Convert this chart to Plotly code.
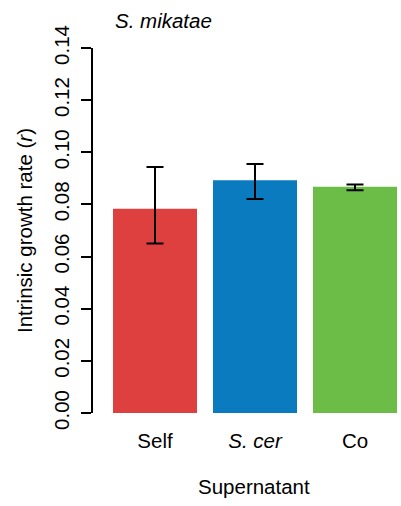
import plotly.graph_objects as go

# Intrinsic growth rate of S. mikatae in different supernatants
categories = ["Self", "<i>S. cer</i>", "Co"]
growth_rate = [0.0783, 0.0893, 0.0868]
err_upper = [0.0944, 0.0955, 0.0876]
err_lower = [0.0650, 0.0821, 0.0854]
bar_colors = ["#DD403E", "#0B7BBF", "#6CBD47"]
y_ticks = [0.00, 0.02, 0.04, 0.06, 0.08, 0.10, 0.12, 0.14]

x_pos = list(range(len(categories)))
plus = [u - m for u, m in zip(err_upper, growth_rate)]
minus = [m - l for m, l in zip(growth_rate, err_lower)]

font = "Liberation Sans, Arial, Helvetica, sans-serif"
fs = 20.5

fig = go.Figure(
    go.Bar(
        x=x_pos,
        y=growth_rate,
        width=0.84,
        marker=dict(color=bar_colors, line=dict(width=0)),
        error_y=dict(
            type="data",
            symmetric=False,
            array=plus,
            arrayminus=minus,
            color="black",
            thickness=2,
            width=8.5,
        ),
    )
)

fig.update_layout(
    width=401,
    height=506,
    margin=dict(l=93, r=4, t=48, b=93),
    plot_bgcolor="white",
    paper_bgcolor="white",
    font=dict(family=font, size=fs, color="black"),
    showlegend=False,
    xaxis=dict(
        range=[-0.62, 2.42],
        tickvals=x_pos,
        ticktext=categories,
        showline=False,
        showgrid=False,
        zeroline=False,
        ticks="",
        ticklabelstandoff=13,
        tickfont=dict(size=fs),
    ),
    yaxis=dict(
        range=[0, 0.14],
        tickvals=y_ticks,
        ticktext=[f"{v:.2f}" for v in y_ticks],
        tickangle=-90,
        showline=True,
        linecolor="black",
        linewidth=2,
        ticks="outside",
        ticklen=10,
        tickwidth=2,
        tickcolor="black",
        showgrid=False,
        zeroline=False,
        ticklabelstandoff=4,
        tickfont=dict(size=fs),
        title=dict(text="Intrinsic growth rate (<i>r</i>)", standoff=12,
                   font=dict(size=fs)),
    ),
    annotations=[
        dict(
            text="<i>S. mikatae</i>",
            xref="paper",
            yref="paper",
            x=(113 - 93) / 304,
            y=1,
            xanchor="left",
            yanchor="bottom",
            yshift=14,
            showarrow=False,
            font=dict(size=fs),
        ),
        dict(
            text="Supernatant",
            xref="paper",
            yref="paper",
            x=(254 - 93) / 304,
            y=0,
            xanchor="center",
            yanchor="middle",
            yshift=-73,
            showarrow=False,
            font=dict(size=fs),
        ),
    ],
)

fig.write_html("out.html")
